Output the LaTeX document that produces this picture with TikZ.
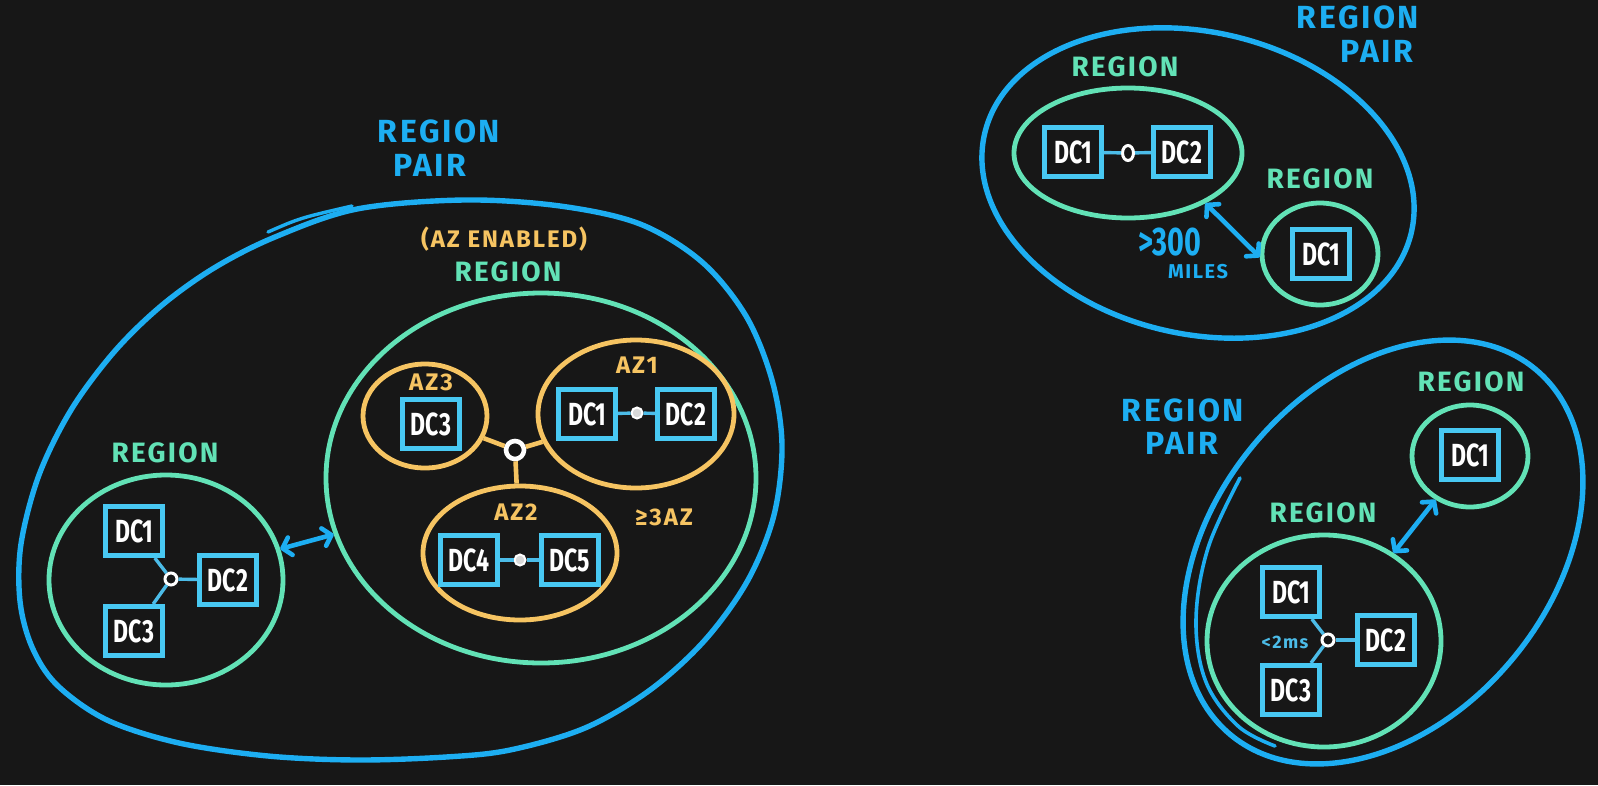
\documentclass[tikz,border=0pt]{standalone}
\usepackage{fontspec}
\setmainfont{Fira Sans}
\newfontfamily\hand{Fira Sans}[LetterSpace=8]
\newfontfamily\dcf{Fira Sans}[FakeStretch=0.72]
\usetikzlibrary{arrows.meta,shapes.geometric}
\definecolor{bg}{HTML}{171717}
\definecolor{pairblue}{HTML}{1DAEF2}
\definecolor{regreen}{HTML}{62E2B6}
\definecolor{azorange}{HTML}{F6C462}
\definecolor{dcblue}{HTML}{48C8F2}
\definecolor{linkblue}{HTML}{4CBCE8}
\begin{document}
\begin{tikzpicture}[x=1pt,y=-1pt,
  pairline/.style={draw=pairblue, line width=5.4pt, line join=round, line cap=round},
  pairoval/.style={ellipse, draw=pairblue, line width=5.4pt, inner sep=0pt},
  region/.style={ellipse, draw=regreen, line width=4.8pt, inner sep=0pt},
  azone/.style={ellipse, draw=azorange, line width=4.8pt, inner sep=0pt},
  dcbox/.style={rectangle, draw=dcblue, line width=5pt, fill=bg, minimum width=57pt, minimum height=49pt, inner sep=0pt, text=white, font=\dcf\bfseries\fontsize{32}{32}\selectfont},
  hub/.style={circle, draw=white, line width=3pt, fill=bg, minimum size=12pt, inner sep=0pt},
  azhub/.style={circle, draw=white, line width=4.6pt, fill=bg, minimum size=18pt, inner sep=0pt},
  dot/.style={circle, draw=white, fill=white!70!gray, line width=2pt, minimum size=11pt, inner sep=0pt},
  ringdot/.style={ellipse, draw=white, fill=bg, line width=3pt, minimum width=11pt, minimum height=15pt, inner sep=0pt},
  link/.style={draw=linkblue, line width=3.4pt},
  azlink/.style={draw=azorange, line width=4.6pt},
  biarrow/.style={draw=pairblue, line width=4.6pt, line cap=round, {Straight Barb[length=8pt,width=18pt,round]}-{Straight Barb[length=8pt,width=18pt,round]}},
  pairlbl/.style={text=pairblue, font=\hand\bfseries\fontsize{32}{32}\selectfont, inner sep=0pt},
  reglbl/.style={text=regreen, font=\hand\bfseries\fontsize{28}{28}\selectfont, inner sep=0pt},
  azlbl/.style={text=azorange, font=\hand\bfseries\fontsize{24}{24}\selectfont, inner sep=0pt},
]
\fill[bg] (0,0) rectangle (1598,785);
\useasboundingbox (0,0) rectangle (1598,785);

% ================= LEFT REGION PAIR =================
\draw[pairline] plot[smooth cycle, tension=0.55] coordinates {
 (464,200) (560,206) (640,224) (702,262) (746,316) (772,380) (782,445)
 (774,515) (748,580) (705,640) (650,690) (585,728) (510,750) (446,757)
 (357,760) (268,756) (179,743) (107,720) (57,685)
 (32,647) (20,601) (21,544) (39,475) (71,410) (114,352) (161,306) (214,268)
 (275,237) (357,209)};
\draw[pairline, line width=3.4pt] (268,232) .. controls (300,218) .. (352,206);
\node[pairlbl] (lp1) at (439,131) {REGION};
\node[pairlbl] (lp2) at (430,165) {PAIR};

% AZ enabled region
\node[region, minimum width=430pt, minimum height=370pt] (azreg) at (541,478) {};
\node[azlbl] (azen) at (504,239) {(AZ ENABLED)};
\node[reglbl] (azregl) at (508,272) {REGION};

\node[azone, minimum width=124pt, minimum height=104pt] (az3) at (425,416) {};
\node[azlbl] (az3l) at (431,382) {AZ3};
\node[dcbox] (az3dc3) at (431,424) {DC3};

\node[azone, minimum width=196pt, minimum height=148pt] (az1) at (636,414) {};
\node[azlbl] (az1l) at (637,365) {AZ1};
\node[dcbox] (az1dc1) at (587,414) {DC1};
\node[dcbox] (az1dc2) at (686,414) {DC2};
\node[dot] (az1dot) at (637,413) {};
\draw[link] (az1dc1) -- (az1dot);
\draw[link] (az1dot) -- (az1dc2);

\node[azone, minimum width=194pt, minimum height=134pt] (az2) at (520,553) {};
\node[azlbl] (az2l) at (516,512) {AZ2};
\node[dcbox] (az2dc4) at (469,560) {DC4};
\node[dcbox] (az2dc5) at (570,560) {DC5};
\node[dot] (az2dot) at (520,560) {};
\draw[link] (az2dc4) -- (az2dot);
\draw[link] (az2dot) -- (az2dc5);

\node[azhub] (azhub) at (515,450) {};
\draw[azlink] (azhub) -- (az3);
\draw[azlink] (azhub) -- (az1);
\draw[azlink] (azhub) -- (az2);
\node[azlbl] (az3note) at (664,517) {≥3AZ};

% left region
\node[region, minimum width=234pt, minimum height=210pt] (lreg) at (166,580) {};
\node[reglbl] (lregl) at (165,453) {REGION};
\node[dcbox] (ldc1) at (134,531) {DC1};
\node[dcbox] (ldc2) at (228,580) {DC2};
\node[dcbox] (ldc3) at (134,631) {DC3};
\node[hub] (lhub) at (171,579) {};
\draw[link] (ldc1) -- (lhub);
\draw[link] (ldc3) -- (lhub);
\draw[link] (lhub) -- (ldc2);
\draw[biarrow] (lreg) -- (azreg);

% ================= TOP RIGHT REGION PAIR =================
\node[pairoval, minimum width=438pt, minimum height=302pt, rotate=-13] (tpair) at (1198,183) {};
\node[pairlbl] (tp1) at (1358,17) {REGION};
\node[pairlbl] (tp2) at (1377,51) {PAIR};

\node[region, minimum width=228pt, minimum height=130pt] (trg) at (1128,153) {};
\node[reglbl] (trgl) at (1125,67) {REGION};
\node[dcbox] (trdc1) at (1073,152) {DC1};
\node[dcbox] (trdc2) at (1182,152) {DC2};
\node[ringdot] (trdot) at (1128,153) {};
\draw[link] (trdc1) -- (trdot);
\draw[link] (trdot) -- (trdc2);

\node[region, minimum width=116pt, minimum height=102pt] (trs) at (1320,254) {};
\node[reglbl] (trsl) at (1320,179) {REGION};
\node[dcbox] (trsdc1) at (1321,254) {DC1};
\draw[biarrow] (trg.-33) -- (trs.183);
\node[pairlbl, font=\dcf\bfseries\fontsize{40}{40}\selectfont] (miles1) at (1170,242) {>300};
\node[pairlbl, font=\hand\bfseries\fontsize{20}{20}\selectfont] (miles2) at (1198,272) {MILES};

% ================= BOTTOM RIGHT REGION PAIR =================
\node[pairoval, minimum width=476pt, minimum height=336pt, rotate=50] (bpair) at (1383,552) {};
\draw[pairline, line width=3.6pt] plot[smooth, tension=0.6] coordinates {
 (1240,478) (1208,548) (1196,620) (1206,682) (1238,726) (1275,746)};
\node[pairlbl] (bp1) at (1183,410) {REGION};
\node[pairlbl] (bp2) at (1182,443) {PAIR};

\node[region, minimum width=116pt, minimum height=102pt] (brs) at (1470,456) {};
\node[reglbl] (brsl) at (1471,382) {REGION};
\node[dcbox] (brsdc1) at (1470,455) {DC1};

\node[region, minimum width=234pt, minimum height=212pt] (brg) at (1324,641) {};
\node[reglbl] (brgl) at (1323,513) {REGION};
\node[dcbox] (bdc1) at (1291,592) {DC1};
\node[dcbox] (bdc2) at (1386,640) {DC2};
\node[dcbox] (bdc3) at (1291,690) {DC3};
\node[hub] (bhub) at (1328,640) {};
\draw[link] (bdc1) -- (bhub);
\draw[link] (bdc3) -- (bhub);
\draw[link] (bhub) -- (bdc2);
\node[text=linkblue, font=\hand\bfseries\fontsize{18}{18}\selectfont, inner sep=0pt] (lat) at (1285,642) {<2ms};
\draw[biarrow] (brg) -- (brs);
\end{tikzpicture}
\end{document}
